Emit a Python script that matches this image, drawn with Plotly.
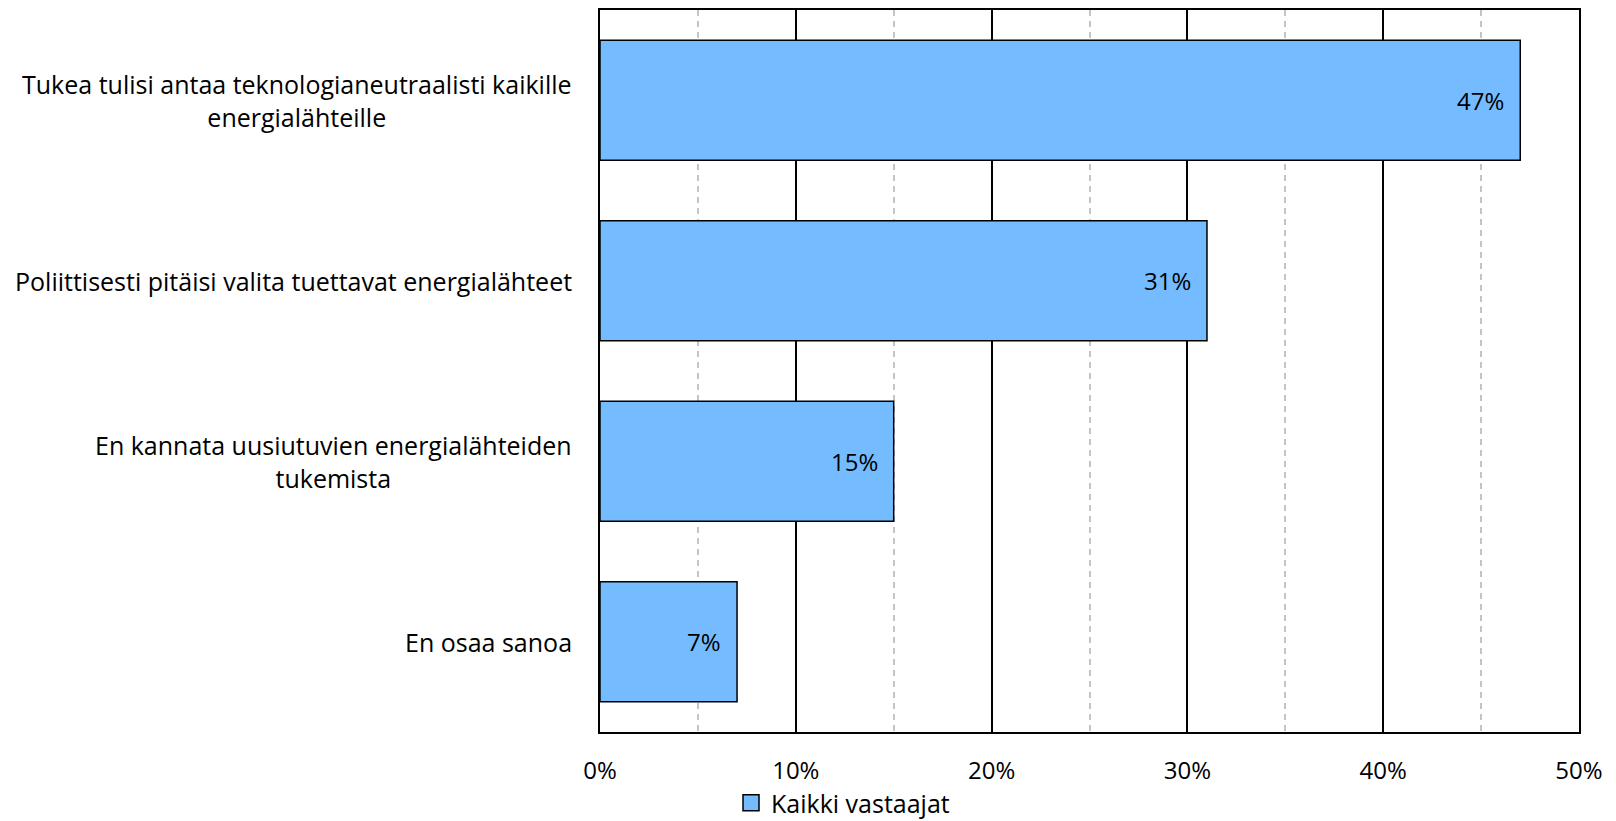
import plotly.graph_objects as go

categories = [
    "Tukea tulisi antaa teknologianeutraalisti kaikille<br>energialähteille",
    "Poliittisesti pitäisi valita tuettavat energialähteet",
    "En kannata uusiutuvien energialähteiden<br>tukemista",
    "En osaa sanoa",
]
values = [47, 31, 15, 7]
series_name = "Kaikki vastaajat"
x_ticks = [0, 10, 20, 30, 40, 50]
x_ticklabels = ["0%", "10%", "20%", "30%", "40%", "50%"]

FONT = "Open Sans"
BAR_COLOR = "#74BCFF"
W, H = 1616, 821
ML, MR, MT, MB = 600, 37, 10, 89

fig = go.Figure()
fig.add_trace(go.Bar(
    y=list(range(len(categories))), x=values, orientation="h",
    marker=dict(color=BAR_COLOR, line=dict(color="black", width=1.5)),
    showlegend=False, hoverinfo="skip",
))
# legend entry
fig.add_trace(go.Scatter(
    x=[None], y=[None], mode="markers", name=series_name,
    marker=dict(symbol="square", size=17, color=BAR_COLOR, line=dict(color="black", width=1.5)),
))

annotations = []
for i, v in enumerate(values):
    annotations.append(dict(
        x=v, y=i, xref="x", yref="y", text=f"{v}%", showarrow=False,
        xanchor="right", yanchor="middle", xshift=-14,
        font=dict(family=FONT, size=24, color="black"),
    ))
plot_w = W - ML - MR
for i, c in enumerate(categories):
    annotations.append(dict(
        x=(574 - ML) / plot_w, y=i, xref="paper", yref="y", text=c, showarrow=False,
        xanchor="right", yanchor="middle", align="center",
        font=dict(family=FONT, size=25, color="black"),
    ))

fig.update_layout(
    width=W, height=H,
    margin=dict(l=ML, r=MR, t=MT, b=MB, pad=0, autoexpand=False),
    paper_bgcolor="white", plot_bgcolor="white",
    bargap=0.336,
    font=dict(family=FONT, size=24, color="black"),
    annotations=annotations,
    legend=dict(
        orientation="h", x=(731 - ML) / plot_w, xanchor="left",
        y=-(803 - (H - MB)) / (H - MT - MB), yanchor="middle",
        font=dict(family=FONT, size=25, color="black"),
        itemwidth=30, bgcolor="rgba(0,0,0,0)",
    ),
    xaxis=dict(
        range=[0, 50], tickvals=x_ticks, ticktext=x_ticklabels,
        showgrid=True, gridcolor="black", gridwidth=1.5,
        showline=True, linecolor="black", linewidth=1.5, mirror=True,
        ticks="", ticklabelstandoff=16, zeroline=False, automargin=False,
        minor=dict(dtick=5, tick0=0, showgrid=True, gridcolor="#C4C4C4", gridwidth=1.5, griddash="6px,5px"),
        tickfont=dict(family=FONT, size=24, color="black"),
    ),
    yaxis=dict(
        range=[len(categories) - 0.5, -0.5], showticklabels=False,
        showgrid=False, zeroline=False, automargin=False,
        showline=True, linecolor="black", linewidth=1.5, mirror=True, ticks="",
    ),
)
fig.write_html("out.html")
